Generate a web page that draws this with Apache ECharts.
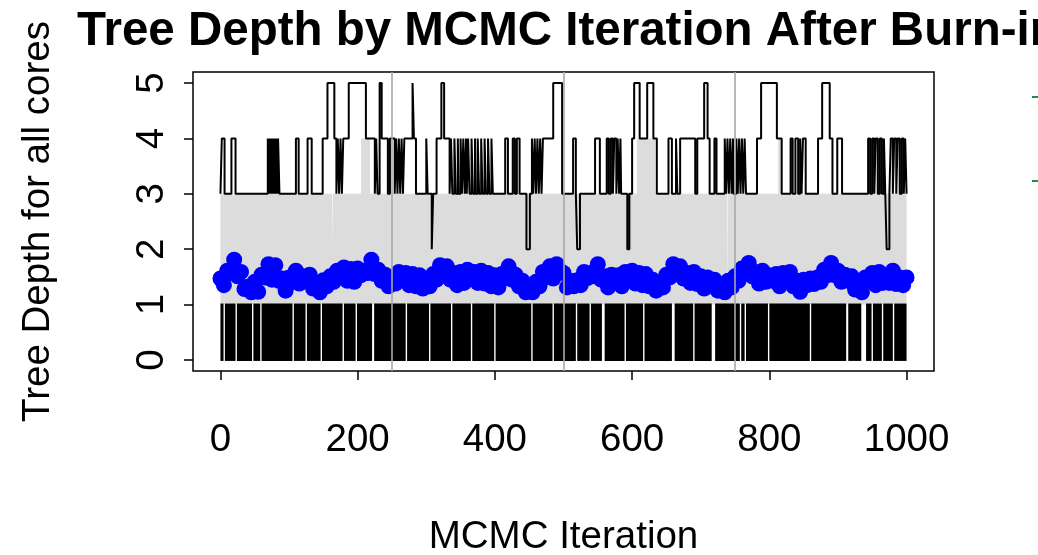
<!DOCTYPE html>
<html>
<head>
<meta charset="utf-8">
<script src="https://cdn.jsdelivr.net/npm/echarts@6/dist/echarts.min.js"></script>
<style>
  html, body { margin: 0; padding: 0; background: #fff; }
  #chart { width: 1038px; height: 555px; }
</style>
</head>
<body>
<div id="chart"></div>
<script>
// tick labels
var iterTicks = [0, 200, 400, 600, 800, 1000];
var depthTicks = [0, 1, 2, 3, 4, 5];

// chain boundaries (grey vertical lines)
var chainBreaks = [250, 500, 750];

// max tree depth: [iteration where value starts, depth]
var maxDepthSteps = [
  [0,3],[2,4],[6,3],[16,4],[22,3],
  [69,4],[71,3],[72,4],[74,3],[75,4],[77,3],[78,4],[80,3],[81,4],[83,3],[84,4],[86,3],
  [110,4],[114,3],[127,4],[133,3],
  [149,4],[156,5],[166,4],[169,3],[171,4],[173,3],[175,4],[177,3],[179,4],[187,5],[212,4],
  [225,3],[227,4],[229,3],[232,5],[235,4],[244,3],[247,4],
  [254,3],[256,4],[258,3],[260,4],[262,3],[264,4],[266,3],[268,4],[280,5],[282,4],[285,3],
  [300,4],[302,3],[308,2],[310,3],[315,4],[322,5],[326,4],
  [334,3],[336,4],[338,3],[341,4],[343,3],[346,4],[347,3],[350,4],[352,3],[354,4],[356,3],
  [358,4],[359,3],[361,4],[363,3],[366,4],[368,3],[371,4],[372,3],[375,4],[377,3],[380,4],
  [382,3],[385,4],[387,3],[390,4],[392,3],[395,4],[397,3],
  [415,4],[419,3],[426,4],[429,3],[432,4],[436,3],[446,2],[451,3],[454,4],[456,3],[458,4],
  [460,3],[462,4],[464,3],[466,4],[468,3],[470,4],[485,5],[498,3],
  [514,4],[518,3],[520,2],[524,3],[546,4],[553,3],
  [563,4],[566,3],[569,4],[572,3],[574,4],[577,3],[579,4],[581,3],[583,4],[584,3],[593,2],[596,3],
  [600,4],[603,5],[611,4],[622,5],[631,4],[636,3],[653,4],[658,3],
  [664,4],[666,3],[670,4],[692,3],[695,4],[705,5],[710,4],[713,3],[720,4],[723,3],
  [735,4],[737,3],[739,4],[741,3],[743,4],[745,3],[747,4],[748,3],
  [752,4],[754,3],[756,4],[758,3],[760,4],[762,3],[764,4],[766,3],
  [782,4],[788,5],[811,4],[818,3],
  [831,4],[834,3],[838,4],[842,3],[845,4],[847,3],[849,4],[853,3],
  [871,4],[877,5],[888,4],[892,3],[899,4],[906,3],
  [944,4],[947,3],[950,4],[953,3],[955,4],[958,3],[961,4],[964,3],[967,4],[969,3],[971,2],
  [975,3],[977,4],[980,3],[982,4],[985,3],[987,4],[990,3],[993,4],[996,3],[998,4],[1000,3]
];

// upper edge of the grey band (lower edge sits at depth 1)
var bandUpperSteps = [
  [0,3],[163,2],[164,3],[205,4],[218,3],[607,4],[634,3],[739,1],[740,3],[813,4],[819,3],[1000,3]
];

// min tree depth toggles 0/1 almost every draw: iterations where it stays flat (white strips)
var minGaps = [
  [4.5,6.5],[22,24],[46,48],[58,60],[105,107],[124,126],[146,148],[178,180],[197,199],
  [221,224],[270,272],[304,306],[336,338],[365,367],[399,401],[453,455],[484,486],[518,520],
  [538,540],[556,560],[589,591],[616,618],[658,662],[689,691],[716,721],[757,759],[764,766],
  [798,800],[859,861],[912,915],[934,941],[949,951],[964,966],[980,982]
];

// mean tree depth across cores, every 5th iteration
var meanDepth = [
  1.47,1.35,1.61,1.57,1.81,1.51,1.59,1.28,1.32,1.22,1.41,1.23,1.54,1.49,1.73,1.45,1.71,1.43,1.47,1.25,
  1.49,1.41,1.61,1.38,1.51,1.43,1.54,1.29,1.39,1.22,1.44,1.33,1.51,1.41,1.61,1.55,1.67,1.43,1.64,1.41,
  1.65,1.53,1.61,1.57,1.81,1.55,1.63,1.43,1.54,1.33,1.47,1.38,1.59,1.47,1.57,1.35,1.55,1.33,1.53,1.29,
  1.43,1.33,1.55,1.45,1.71,1.65,1.69,1.45,1.57,1.35,1.59,1.39,1.63,1.49,1.59,1.39,1.61,1.38,1.57,1.33,
  1.53,1.31,1.55,1.47,1.69,1.45,1.54,1.33,1.43,1.22,1.31,1.22,1.41,1.33,1.59,1.49,1.69,1.47,1.73,1.61,
  1.57,1.31,1.43,1.33,1.44,1.35,1.59,1.48,1.57,1.51,1.73,1.45,1.51,1.31,1.54,1.43,1.53,1.33,1.59,1.49,
  1.61,1.38,1.57,1.35,1.55,1.33,1.45,1.25,1.39,1.31,1.54,1.49,1.73,1.65,1.69,1.47,1.57,1.39,1.59,1.37,
  1.51,1.29,1.49,1.35,1.45,1.25,1.35,1.22,1.43,1.31,1.51,1.43,1.65,1.55,1.75,1.51,1.59,1.38,1.61,1.41,
  1.53,1.43,1.55,1.33,1.57,1.47,1.59,1.33,1.43,1.23,1.45,1.35,1.47,1.37,1.49,1.41,1.63,1.53,1.75,1.53,
  1.61,1.41,1.54,1.43,1.51,1.27,1.39,1.22,1.49,1.45,1.57,1.35,1.59,1.39,1.49,1.39,1.61,1.37,1.49,1.35,
  1.49
];
var meanEvery = 5;

var FONT = '"Liberation Sans", Arial, Helvetica, sans-serif';

// solid black blocks of the min-depth trace, between the flat stretches
var minBlocks = [];
var prev = 0;
minGaps.forEach(function (g) {
  minBlocks.push([prev, g[0]]);
  prev = g[1];
});
minBlocks.push([prev, 1000]);

var meanData = meanDepth.map(function (v, i) { return [i * meanEvery, v]; });

function plain(v) { return String(v); }

var chart = echarts.init(document.getElementById('chart'), null, { renderer: 'canvas' });
chart.setOption({
  animation: false,
  backgroundColor: '#ffffff',
  title: {
    text: 'Tree Depth by MCMC Iteration After Burn-in',
    left: 72, top: 3,
    textStyle: { fontFamily: FONT, fontSize: 47.5, fontWeight: 'bold', color: '#000' }
  },
  grid: {
    left: 193, right: 104, top: 72, bottom: 184,
    outerBoundsMode: 'none', containLabel: false,
    show: true, borderColor: '#000', borderWidth: 1.5, backgroundColor: 'transparent'
  },
  xAxis: {
    type: 'value', min: -40, max: 1040,
    name: 'MCMC Iteration', nameLocation: 'middle', nameGap: 147,
    nameTextStyle: { fontFamily: FONT, fontSize: 38.5, color: '#000' },
    axisLine: { show: false, onZero: false },
    axisTick: { show: true, inside: false, length: 9, customValues: iterTicks,
      lineStyle: { color: '#000', width: 1.5 } },
    axisLabel: { customValues: iterTicks, formatter: plain, fontFamily: FONT, fontSize: 38.5,
      color: '#000', margin: 50 },
    splitLine: { show: false }
  },
  yAxis: {
    type: 'value', min: -0.2, max: 5.2,
    name: 'Tree Depth for all cores', nameLocation: 'middle', nameRotate: 90, nameGap: 135,
    nameTextStyle: { fontFamily: FONT, fontSize: 38.5, color: '#000' },
    axisLine: { show: false, onZero: false },
    axisTick: { show: true, inside: false, length: 9, customValues: depthTicks,
      lineStyle: { color: '#000', width: 1.5 } },
    axisLabel: { customValues: depthTicks, formatter: plain, rotate: 90, fontFamily: FONT,
      fontSize: 38.5, color: '#000', margin: 21 },
    splitLine: { show: false }
  },
  series: [
    {
      name: 'band', type: 'line', step: 'end', data: bandUpperSteps,
      symbol: 'none', silent: true, z: 1,
      lineStyle: { width: 0, opacity: 0 },
      areaStyle: { color: '#dcdcdc', opacity: 1, origin: 1 }
    },
    {
      name: 'min', type: 'custom', data: minBlocks, z: 2, silent: true, clip: true,
      encode: { x: [0, 1] },
      renderItem: function (params, api) {
        var p0 = api.coord([api.value(0), 1]);
        var p1 = api.coord([api.value(1), 0]);
        return {
          type: 'rect',
          shape: { x: p0[0], y: p0[1] - 1, width: p1[0] - p0[0], height: p1[1] - p0[1] + 2 },
          style: { fill: '#000' }
        };
      }
    },
    {
      name: 'max', type: 'line', step: 'end', data: maxDepthSteps,
      symbol: 'none', silent: true, z: 3,
      lineStyle: { color: '#000', width: 2 }
    },
    {
      name: 'mean', type: 'scatter', data: meanData, z: 4, silent: true,
      symbol: 'circle', symbolSize: 16,
      itemStyle: { color: '#0000ff', opacity: 1 }
    },
    {
      name: 'breaks', type: 'line', data: [], z: 5, silent: true,
      markLine: {
        silent: true, symbol: 'none', label: { show: false },
        lineStyle: { color: '#a8a8a8', width: 1.6, type: 'solid' },
        data: chainBreaks.map(function (b) { return { xAxis: b }; })
      }
    }
  ],
  graphic: [
    { type: 'rect', shape: { x: 1032, y: 96, width: 6, height: 2 }, style: { fill: '#1f8a4c' } },
    { type: 'rect', shape: { x: 1032, y: 180, width: 6, height: 2 }, style: { fill: '#1f8a4c' } }
  ]
});
window.addEventListener('resize', function () { chart.resize(); });
</script>
</body>
</html>
